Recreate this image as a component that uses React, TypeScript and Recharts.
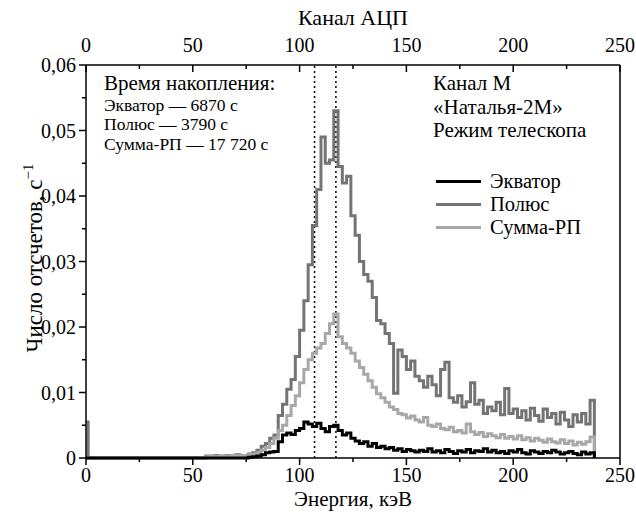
import * as React from "react";
import { LineChart, Line, XAxis, YAxis, ReferenceLine } from "recharts";

// energy bin starts, keV
const energy = [
  0, 1,
  56, 58, 60, 62, 64, 66, 68, 70, 72, 74, 76, 78,
  80, 82, 84, 86, 88, 90, 92, 94, 96, 98,
  100, 102, 104, 106, 108, 110, 112, 114, 116, 118,
  120, 122, 124, 126, 128, 130, 132, 134, 136, 138,
  140, 142, 144, 146, 148, 150, 152, 154, 156, 158,
  160, 162, 164, 166, 168, 170, 172, 174, 176, 178,
  180, 182, 184, 186, 188, 190, 192, 194, 196, 198,
  200, 202, 204, 206, 208, 210, 212, 214, 216, 218,
  220, 222, 224, 226, 228, 230, 232, 234, 236, 238,
];

const equator = [
  0, 0,
  0, 0, 0, 0, 0, 0, 0, 0, 0, 0, 0.0001, 0.0002,
  0.0003, 0.0005, 0.0008, 0.0009, 0.001, 0.0025, 0.0035, 0.0038, 0.0036, 0.0042,
  0.0045, 0.0055, 0.0052, 0.0048, 0.0053, 0.0045, 0.004, 0.0048, 0.005, 0.0042,
  0.0035, 0.0038, 0.003, 0.0026, 0.0022, 0.0025, 0.0018, 0.0022, 0.0016, 0.0018,
  0.0014, 0.0016, 0.0012, 0.0014, 0.001, 0.0013, 0.0011, 0.0009, 0.0012, 0.001,
  0.0014, 0.0009, 0.0011, 0.0008, 0.0013, 0.001, 0.0007, 0.0011, 0.0009, 0.0013,
  0.0008, 0.0011, 0.001, 0.0014, 0.0009, 0.0012, 0.0008, 0.001, 0.0007, 0.0011,
  0.0009, 0.0013, 0.0008, 0.0006, 0.0011, 0.0009, 0.0007, 0.001, 0.0008, 0.0012,
  0.0009, 0.0006, 0.0008, 0.001, 0.0007, 0.0005, 0.0009, 0.0006, 0.0008, 0,
];

const pole = [
  0.0055, 0,
  0.0003, 0.0002, 0.0004, 0.0002, 0.0003, 0.0004, 0.0003, 0.0005, 0.0003, 0.0004, 0.0006, 0.0008,
  0.0012, 0.0018, 0.0022, 0.003, 0.0035, 0.0065, 0.0082, 0.0105, 0.012, 0.0155,
  0.0195, 0.024, 0.0295, 0.0355, 0.041, 0.049, 0.045, 0.0455, 0.053, 0.0445,
  0.042, 0.043, 0.037, 0.034, 0.03, 0.028, 0.027, 0.0245, 0.021, 0.0205,
  0.019, 0.0175, 0.0099, 0.0165, 0.0155, 0.0135, 0.0148, 0.0125, 0.0118, 0.0108,
  0.0125, 0.0112, 0.0095, 0.0135, 0.0146, 0.0092, 0.0085, 0.0095, 0.0078, 0.0086,
  0.0115, 0.0082, 0.0088, 0.0068, 0.0078, 0.0072, 0.0085, 0.0066, 0.0106, 0.0068,
  0.0075, 0.0062, 0.0072, 0.0058, 0.0076, 0.0065, 0.0056, 0.0075, 0.0062, 0.0068,
  0.0052, 0.007, 0.0058, 0.0048, 0.0066, 0.0055, 0.0068, 0.0052, 0.0088, 0,
];

const summa = [
  0, 0,
  0.0002, 0.0003, 0.0002, 0.0003, 0.0002, 0.0003, 0.0004, 0.0003, 0.0004, 0.0003, 0.0005, 0.0006,
  0.0008, 0.0012, 0.0016, 0.0022, 0.003, 0.0042, 0.005, 0.0065, 0.008, 0.0095,
  0.0115, 0.0135, 0.015, 0.016, 0.0168, 0.0175, 0.019, 0.0205, 0.022, 0.0185,
  0.0175, 0.0168, 0.016, 0.0148, 0.0138, 0.0128, 0.0118, 0.0108, 0.0098, 0.0092,
  0.0085, 0.0078, 0.0074, 0.0068, 0.0066, 0.0061, 0.0064, 0.0058, 0.0055, 0.0062,
  0.005, 0.0048, 0.0052, 0.0045, 0.0043, 0.0047, 0.004, 0.0042, 0.0038, 0.0052,
  0.004, 0.0036, 0.0039, 0.0033, 0.0037, 0.0034, 0.0031, 0.0036, 0.003, 0.0033,
  0.0029, 0.0034, 0.0028, 0.0031, 0.0026, 0.003, 0.0027, 0.0024, 0.0029, 0.0025,
  0.0023, 0.0028, 0.0022, 0.0026, 0.002, 0.0024, 0.0021, 0.0025, 0.0032, 0,
];

const xTicks = [0, 25, 50, 75, 100, 125, 150, 175, 200, 225, 250];
const yTicks = [0, 0.005, 0.01, 0.015, 0.02, 0.025, 0.03, 0.035, 0.04, 0.045, 0.05, 0.055, 0.06];
const markers = [107, 117];

const data = energy.map((e, i) => ({ e, eq: equator[i], pol: pole[i], sum: summa[i] }));

const FONT = "Liberation Serif, Times New Roman, Times, DejaVu Serif, serif";
const C_EQ = "#000000";
const C_POL = "#747474";
const C_SUM = "#a8a8a8";

const isMajorX = (v: number) => v % 50 === 0;
const isMajorY = (v: number) => Math.round(v * 1000) % 10 === 0;
const fmtY = (v: number) => (v === 0 ? "0" : v.toFixed(2).replace(".", ","));

const BottomTick = (p: any) => {
  const v = p.payload.value;
  const major = isMajorX(v);
  return (
    <g>
      <line x1={p.x} x2={p.x} y1={p.y} y2={p.y + (major ? 7 : 4)} stroke="#000" strokeWidth={1.5} />
      {major && (
        <text x={p.x} y={p.y + 24} textAnchor="middle" style={{ fontFamily: FONT }} fontSize={20} fill="#000">
          {v}
        </text>
      )}
    </g>
  );
};

const TopTick = (p: any) => {
  const v = p.payload.value;
  const major = isMajorX(v);
  return (
    <g>
      <line x1={p.x} x2={p.x} y1={p.y} y2={p.y + (major ? 7 : 4)} stroke="#000" strokeWidth={1.5} />
      {major && (
        <text x={p.x} y={p.y - 13} textAnchor="middle" style={{ fontFamily: FONT }} fontSize={20} fill="#000">
          {v}
        </text>
      )}
    </g>
  );
};

const LeftTick = (p: any) => {
  const v = p.payload.value;
  const major = isMajorY(v);
  return (
    <g>
      <line x1={p.x - (major ? 7 : 4)} x2={p.x} y1={p.y} y2={p.y} stroke="#000" strokeWidth={1.5} />
      {major && (
        <text x={p.x - 10} y={p.y + 7} textAnchor="end" style={{ fontFamily: FONT }} fontSize={20} fill="#000">
          {fmtY(v)}
        </text>
      )}
    </g>
  );
};

const RightTick = (p: any) => (
  <line x1={p.x - 5} x2={p.x} y1={p.y} y2={p.y} stroke="#000" strokeWidth={1.5} />
);

// lh = line box height in px
const abs = (left: number, top: number, size: number, lh: number): React.CSSProperties => ({
  position: "absolute",
  left,
  top,
  fontFamily: FONT,
  fontSize: size,
  lineHeight: `${lh}px`,
  color: "#000",
  whiteSpace: "nowrap",
});

const legendItems = [
  { name: "Экватор", color: C_EQ },
  { name: "Полюс", color: C_POL },
  { name: "Сумма-РП", color: C_SUM },
];

export default function App() {
  return (
    <div style={{ position: "absolute", left: 0, top: 0, width: 636, height: 518, background: "#fff", fontFamily: FONT }}>
      <LineChart width={636} height={518} data={data} margin={{ top: 0, right: 0, bottom: 0, left: 0 }}>
        <XAxis
          xAxisId="bottom"
          dataKey="e"
          type="number"
          domain={[0, 250]}
          ticks={xTicks}
          interval={0}
          height={60}
          tickSize={0}
          tickMargin={0}
          tick={<BottomTick />}
          axisLine={{ stroke: "#000", strokeWidth: 1.5 }}
          tickLine={false}
        />
        <XAxis
          xAxisId="top"
          orientation="top"
          dataKey="e"
          type="number"
          domain={[0, 250]}
          ticks={xTicks}
          interval={0}
          height={65}
          tickSize={0}
          tickMargin={0}
          tick={<TopTick />}
          axisLine={{ stroke: "#000", strokeWidth: 1.5 }}
          tickLine={false}
        />
        <YAxis
          yAxisId="left"
          type="number"
          domain={[0, 0.06]}
          ticks={yTicks}
          interval={0}
          width={86}
          tickSize={0}
          tickMargin={0}
          tick={<LeftTick />}
          axisLine={{ stroke: "#000", strokeWidth: 1.5 }}
          tickLine={false}
        />
        <YAxis
          yAxisId="right"
          orientation="right"
          type="number"
          domain={[0, 0.06]}
          ticks={yTicks}
          interval={0}
          width={16}
          tickSize={0}
          tickMargin={0}
          tick={<RightTick />}
          axisLine={{ stroke: "#000", strokeWidth: 1.5 }}
          tickLine={false}
        />
        {markers.map((m) => (
          <ReferenceLine
            key={m}
            x={m}
            xAxisId="bottom"
            yAxisId="left"
            stroke="#000"
            strokeWidth={1.5}
            strokeDasharray="2 3"
          />
        ))}
        <Line xAxisId="bottom" yAxisId="left" dataKey="pol" type="stepAfter" stroke={C_POL} strokeWidth={3} dot={false} isAnimationActive={false} />
        <Line xAxisId="bottom" yAxisId="left" dataKey="sum" type="stepAfter" stroke={C_SUM} strokeWidth={3} dot={false} isAnimationActive={false} />
        <Line xAxisId="bottom" yAxisId="left" dataKey="eq" type="stepAfter" stroke={C_EQ} strokeWidth={3} dot={false} isAnimationActive={false} />
      </LineChart>

      {/* axis titles */}
      <div style={{ ...abs(86, 490, 21, 18), width: 534, textAlign: "center" }}>Энергия, кэВ</div>
      <div style={{ ...abs(86, 8, 22, 20), width: 534, textAlign: "center" }}>Канал АЦП</div>
      <div
        style={{
          ...abs(31, 258, 23, 23),
          transform: "translate(-50%, -50%) rotate(-90deg)",
        }}
      >
        Число отсчетов, с<sup style={{ fontSize: 15, verticalAlign: "9px" }}>−1</sup>
      </div>

      {/* annotations */}
      <div style={abs(104, 71.5, 21, 23)}>Время накопления:</div>
      <div style={abs(104, 95.5, 17.5, 19)}>Экватор — 6870 с</div>
      <div style={abs(104, 115, 17.5, 19)}>Полюс — 3790 с</div>
      <div style={abs(104, 134.5, 17.5, 19)}>Сумма-РП — 17 720 с</div>

      <div style={abs(433, 72, 21, 23)}>Канал М</div>
      <div style={abs(433, 95.5, 21, 23)}>«Наталья-2М»</div>
      <div style={abs(433, 119, 21, 23)}>Режим телескопа</div>

      {legendItems.map((it, i) => (
        <div key={it.name}>
          <div style={{ position: "absolute", left: 436, top: 180 + i * 23, width: 45, height: 3, background: it.color }} />
          <div style={abs(490, 170 + i * 23, 20.5, 23)}>{it.name}</div>
        </div>
      ))}
    </div>
  );
}
